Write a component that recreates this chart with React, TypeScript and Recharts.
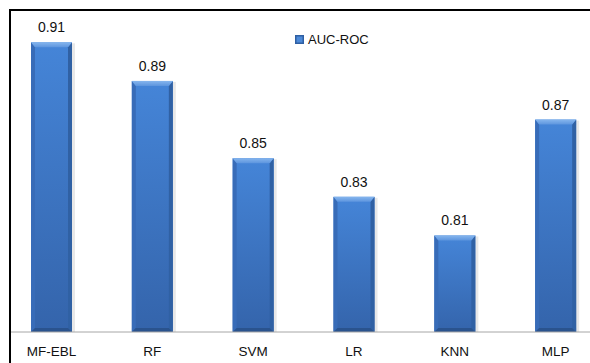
import React from "react";
import { BarChart, Bar, XAxis, YAxis, Legend, LabelList } from "recharts";

const categories = ["MF-EBL", "RF", "SVM", "LR", "KNN", "MLP"];
const aucRoc = [0.91, 0.89, 0.85, 0.83, 0.81, 0.87];
const seriesName = "AUC-ROC";

const data = categories.map((c, i) => ({ name: c, value: aucRoc[i] }));

const FONT = "'Liberation Sans', Arial, sans-serif";

const BevelBar = (props: any) => {
  const { x, y, width: w, height: h } = props;
  if (h <= 0) return null;
  const b = 4;
  return (
    <g>
      <rect x={x + 1} y={y + 1} width={w + 2} height={h} fill="#d8d8d8" opacity={0.6} />
      <rect x={x} y={y} width={w} height={h} fill="url(#barBody)" />
      <polygon
        points={`${x},${y} ${x + b},${y + b + 1} ${x + b},${y + h - b} ${x},${y + h}`}
        fill="#386cb8"
      />
      <polygon
        points={`${x + w},${y} ${x + w - b},${y + b + 1} ${x + w - b},${y + h - b} ${x + w},${y + h}`}
        fill="#3061a4"
      />
      <polygon
        points={`${x},${y} ${x + w},${y} ${x + w - b},${y + b + 1} ${x + b},${y + b + 1}`}
        fill="url(#barTop)"
      />
      <polygon
        points={`${x},${y + h} ${x + w},${y + h} ${x + w - b},${y + h - b} ${x + b},${y + h - b}`}
        fill="#2a538e"
      />
    </g>
  );
};

const LegendContent = () => (
  <div style={{ display: "flex", alignItems: "center", fontFamily: FONT, fontSize: 13, color: "#111" }}>
    <svg width={9} height={9} style={{ marginRight: 4 }}>
      <rect x={0} y={0} width={9} height={9} fill="#2f5fa3" />
      <rect x={1.5} y={1.5} width={6} height={6} fill="#4d8ad8" />
    </svg>
    <span>{seriesName}</span>
  </div>
);

export default function App() {
  return (
    <div
      style={{
        position: "fixed",
        left: 0,
        top: 0,
        width: 590,
        height: 363,
        overflow: "hidden",
        background: "#fff",
      }}
    >
      <div
        style={{
          position: "absolute",
          left: 9,
          top: 9,
          width: 640,
          height: 420,
          borderLeft: "2px solid #000",
          borderTop: "2px solid #000",
          overflow: "hidden",
        }}
      >
        <div style={{ position: "absolute", left: -11, top: -11 }}>
          <BarChart
            width={620}
            height={380}
            data={data}
            margin={{ top: 23, right: 14, left: 1, bottom: 18 }}
            barCategoryGap="30%"
          >
            <defs>
              <linearGradient id="barBody" x1="0" y1="0" x2="0" y2="1">
                <stop offset="0%" stopColor="#4585d8" />
                <stop offset="100%" stopColor="#3464ab" />
              </linearGradient>
              <linearGradient id="barTop" x1="0" y1="0" x2="0" y2="1">
                <stop offset="0%" stopColor="#86b6ee" />
                <stop offset="100%" stopColor="#5d95de" />
              </linearGradient>
            </defs>
            <XAxis
              dataKey="name"
              height={30}
              tickLine={false}
              axisLine={{ stroke: "#a6a6a6", strokeWidth: 1 }}
              tick={{ fontFamily: FONT, fontSize: 13.5, fill: "#111" }}
              tickMargin={8}
              interval={0}
            />
            <YAxis hide domain={[0.76, 0.92]} allowDataOverflow />
            <Legend
              layout="horizontal"
              verticalAlign="middle"
              align="center"
              content={<LegendContent />}
              wrapperStyle={{ position: "absolute", top: 32, left: 295, width: 100 }}
            />
            <Bar
              dataKey="value"
              name={seriesName}
              barSize={41}
              shape={<BevelBar />}
              isAnimationActive={false}
            >
              <LabelList
                dataKey="value"
                position="top"
                offset={10}
                style={{ fontFamily: FONT, fontSize: 14, fill: "#111" }}
              />
            </Bar>
          </BarChart>
        </div>
      </div>
    </div>
  );
}
